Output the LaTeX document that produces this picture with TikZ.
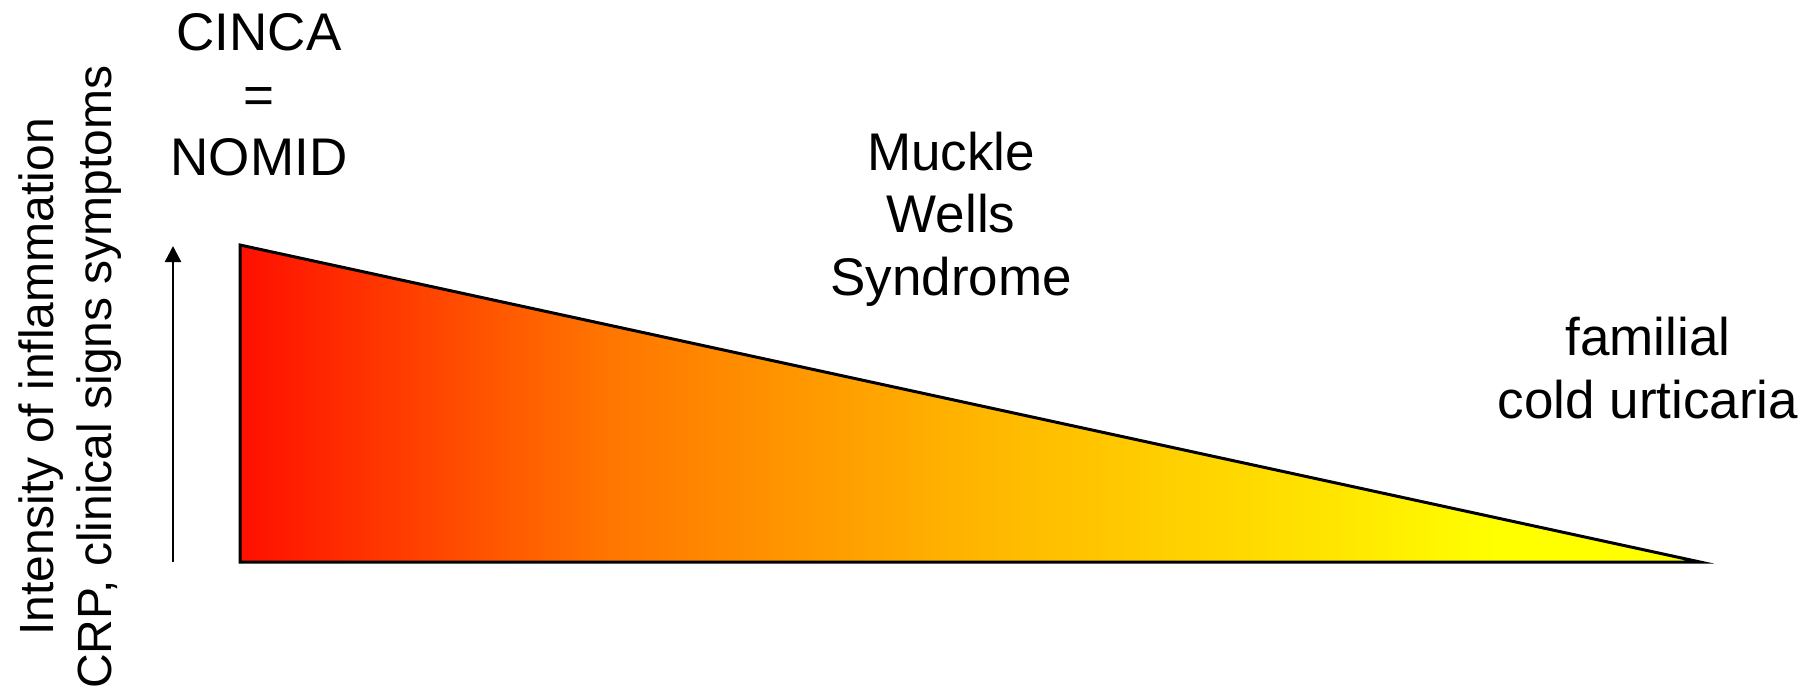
\documentclass[tikz,border=0pt]{standalone}
\usepackage{fontspec}
\setmainfont{Liberation Sans}
\usetikzlibrary{arrows.meta}
\pgfdeclarehorizontalshading{wedgeshade}{100bp}{%
  rgb(0bp)=(1,0.06,0);
  rgb(25bp)=(1,0.06,0);
  rgb(37.5bp)=(1,0.46,0);
  rgb(50bp)=(1,0.71,0);
  rgb(62.5bp)=(1,0.9,0);
  rgb(68bp)=(1,1,0);
  rgb(75bp)=(1,1,0);
  rgb(100bp)=(1,1,0)}
\tikzset{
  label/.style={inner sep=0pt, align=center, font=\fontsize{26.5pt}{31.25pt}\selectfont},
  axislabel/.style={inner sep=0pt, align=center, rotate=90, font=\fontsize{24pt}{29pt}\selectfont},
  wedge/.style={draw=black, line width=1.5pt, line join=miter, shading=wedgeshade},
  axisarrow/.style={draw=black, line width=1.25pt, -{Triangle[length=8pt,width=8pt]}}
}
\begin{document}
\begin{tikzpicture}[x=0.5pt,y=-0.5pt]
\useasboundingbox (0,0) rectangle (1820,691);
% wedge corners
\coordinate (tl) at (240,245);
\coordinate (bl) at (240,562);
\coordinate (tip) at (1700,562);
\shadedraw[wedge] (tl) -- (bl) -- (tip) -- cycle;
% axis arrow
\coordinate (abot) at (173,562);
\coordinate (atop) at (173,246);
\draw[axisarrow] (abot) -- (atop);
% labels
\node[label] (cinca) at (259,95) {CINCA\\=\\NOMID};
\node[label] (mws) at (951,219) {Muckle\\Wells\\Syndrome};
\node[label] (fcu) at (1648,368) {familial\\cold urticaria};
\node[axislabel] (axis) at (70,377) {Intensity of inflammation\\CRP, clinical signs symptoms};
\end{tikzpicture}
\end{document}
